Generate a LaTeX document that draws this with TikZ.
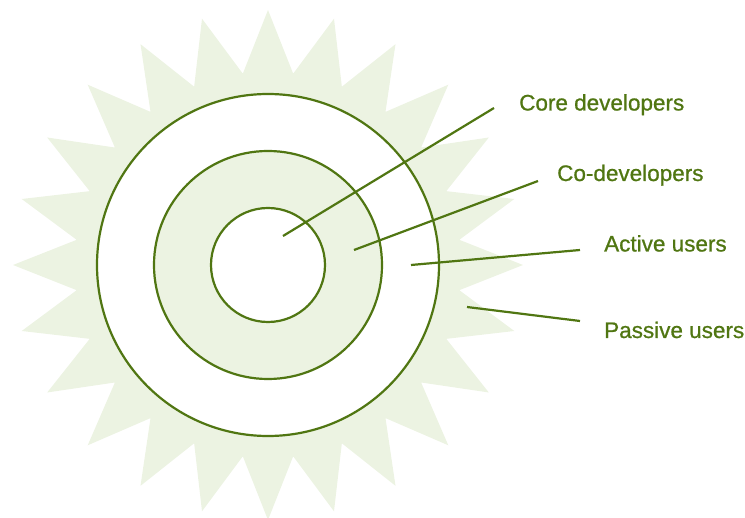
\documentclass[tikz,border=0pt]{standalone}
\usepackage{fontspec}
\setmainfont{Liberation Sans}
\newfontfamily\lblfont{Liberation Sans}[FakeBold=0.8]
\definecolor{leaf}{RGB}{80,118,18}
\definecolor{leaflight}{RGB}{236,243,226}

\tikzset{
  ring/.style={circle, draw=leaf, line width=2.2pt, inner sep=0pt},
  leader/.style={draw=leaf, line width=2.2pt},
  lbl/.style={text=leaf, inner sep=0pt, anchor=base west, font=\lblfont\fontsize{22.5}{27}\selectfont}
}

\begin{document}
\begin{tikzpicture}[x=1pt,y=-1pt]
        \useasboundingbox (0,0) rectangle (745,518);
        \coordinate (hub) at (268,265);
        \fill[leaflight, shift={(hub)}] (90:255) \foreach \k in {1,...,24} { -- (90+15*\k-7.5:193) -- (90+15*\k:255) } -- cycle;
        \node[ring, fill=white, minimum size=342pt] (outer) at (hub) {};
        \node[ring, fill=leaflight, minimum size=228pt] (middle) at (hub) {};
        \node[ring, fill=white, minimum size=114pt] (inner) at (hub) {};

        \node[lbl] (core) at (519,110.5) {Core developers};
        \node[lbl] (codev) at (557,181) {Co-developers};
        \node[lbl] (active) at (604,251.5) {Active users};
        \node[lbl] (passive) at (604,338) {Passive users};

        \coordinate (coreIn) at (283,236);   \coordinate (coreOut) at (494,108);
        \coordinate (codevIn) at (354,250);  \coordinate (codevOut) at (538,181);
        \coordinate (activeIn) at (411,265); \coordinate (activeOut) at (580,250);
        \coordinate (passiveIn) at (467,307); \coordinate (passiveOut) at (580,321);
        \draw[leader] (coreIn) -- (coreOut);
        \draw[leader] (codevIn) -- (codevOut);
        \draw[leader] (activeIn) -- (activeOut);
        \draw[leader] (passiveIn) -- (passiveOut);
    \end{tikzpicture}
\end{document}
